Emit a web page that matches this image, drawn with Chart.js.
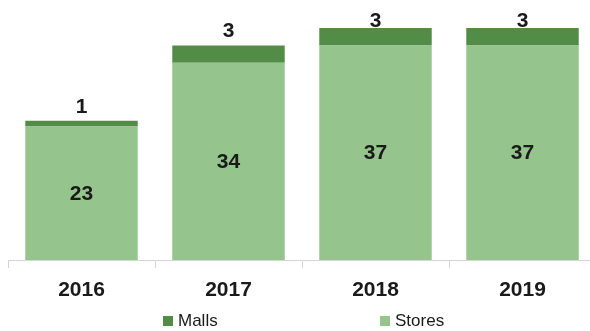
<!DOCTYPE html>
<html>
<head>
<meta charset="utf-8">
<script src="https://cdn.jsdelivr.net/npm/chart.js@4.4.1/dist/chart.umd.min.js"></script>
<style>
  html, body { margin: 0; padding: 0; background: #fff; overflow: hidden; }
  #wrap { width: 590px; height: 331px; overflow: hidden; }
</style>
</head>
<body>
<div id="wrap"><canvas id="chart" width="596" height="331"></canvas></div>
<script>
const years = ["2016", "2017", "2018", "2019"];
const stores = [23, 34, 37, 37];
const malls = [1, 3, 3, 3];

const darkGreen = "#528c47";
const lightGreen = "#95c58c";

// value labels: stores centred in segment, malls above the bar
const valueLabels = {
    id: "valueLabels",
    afterDatasetsDraw(chart) {
        const ctx = chart.ctx;
        ctx.save();
        ctx.font = "bold 21px 'Liberation Sans', Arial, sans-serif";
        ctx.fillStyle = "#1a1a1a";
        ctx.textAlign = "center";
        ctx.textBaseline = "middle";
        chart.data.datasets.forEach((ds, i) => {
            chart.getDatasetMeta(i).data.forEach((bar, j) => {
                let y;
                if (ds.label === "Stores") y = (bar.y + bar.base) / 2 + 1;
                else y = Math.max(bar.y - 14, 21);
                ctx.fillText(String(ds.data[j]), bar.x, y);
            });
        });
        ctx.restore();
    }
};

// legend drawn along the bottom, Malls first
const bottomLegend = {
    id: "bottomLegend",
    afterDraw(chart) {
        const ctx = chart.ctx;
        const items = [
            { text: "Malls", color: darkGreen, x: 163 },
            { text: "Stores", color: lightGreen, x: 380 }
        ];
        ctx.save();
        ctx.font = "17px 'Liberation Sans', Arial, sans-serif";
        ctx.textBaseline = "middle";
        items.forEach(it => {
            ctx.fillStyle = it.color;
            ctx.fillRect(it.x, 316, 10, 10);
            ctx.fillStyle = "#1a1a1a";
            ctx.fillText(it.text, it.x + 15, 321);
        });
        ctx.restore();
    }
};

new Chart(document.getElementById("chart"), {
    type: "bar",
    data: {
        labels: years,
        datasets: [
            { label: "Stores", data: stores, backgroundColor: lightGreen },
            { label: "Malls", data: malls, backgroundColor: darkGreen }
        ]
    },
    options: {
        responsive: false,
        animation: false,
        events: [],
        layout: { padding: { top: 28, left: 8, right: 0, bottom: 0 } },
        plugins: {
            legend: { display: false },
            tooltip: { enabled: false }
        },
        datasets: {
            bar: { categoryPercentage: 1, barPercentage: 0.765 }
        },
        scales: {
            x: {
                stacked: true,
                grid: {
                    drawOnChartArea: false,
                    color: "#d4d4d4",
                    tickLength: 8,
                    offset: true
                },
                border: { color: "#d4d4d4" },
                ticks: {
                    padding: 10,
                    color: "#1a1a1a",
                    font: { family: "'Liberation Sans', Arial, sans-serif", size: 21, weight: "bold" }
                },
                afterFit(scale) { scale.height = 71; }
            },
            y: {
                stacked: true,
                display: false,
                min: 0,
                max: 40
            }
        }
    },
    plugins: [valueLabels, bottomLegend]
});
</script>
</body>
</html>
